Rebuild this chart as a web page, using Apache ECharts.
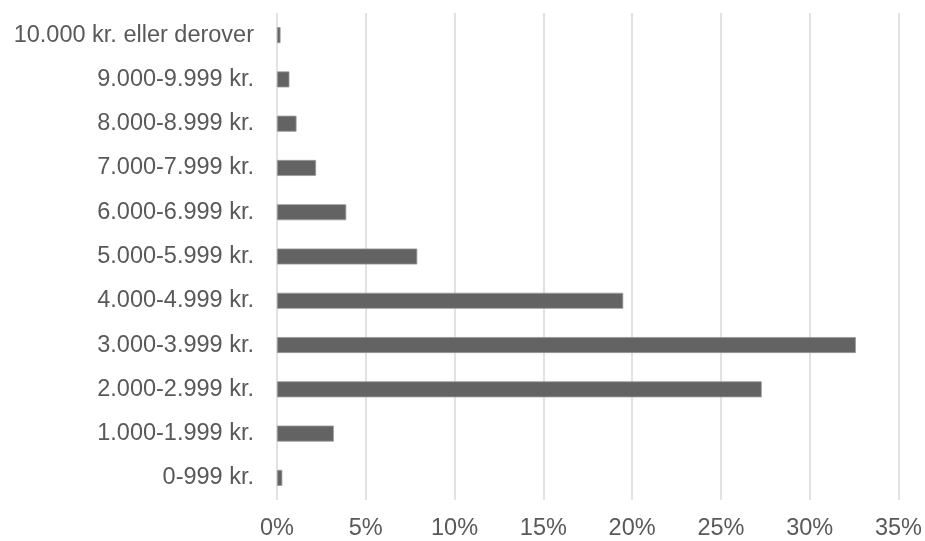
<!DOCTYPE html>
<html>
<head>
<meta charset="utf-8">
<script src="https://cdn.jsdelivr.net/npm/echarts@6/dist/echarts.min.js"></script>
<style>
  html, body { margin: 0; padding: 0; background: #ffffff; }
  #chart { width: 925px; height: 541px; }
</style>
</head>
<body>
<div id="chart"></div>
<script>
// Income brackets, bottom to top
const categories = [
  '0-999 kr.',
  '1.000-1.999 kr.',
  '2.000-2.999 kr.',
  '3.000-3.999 kr.',
  '4.000-4.999 kr.',
  '5.000-5.999 kr.',
  '6.000-6.999 kr.',
  '7.000-7.999 kr.',
  '8.000-8.999 kr.',
  '9.000-9.999 kr.',
  '10.000 kr. eller derover'
];

// Share of respondents per bracket (%)
const shares = [0.3, 3.2, 27.3, 32.6, 19.5, 7.9, 3.9, 2.2, 1.1, 0.7, 0.2];

// Value axis ticks (%)
const tickMin = 0;
const tickMax = 35;
const tickStep = 5;

const chart = echarts.init(document.getElementById('chart'), null, { renderer: 'canvas' });

chart.setOption({
  animation: false,
  backgroundColor: '#ffffff',
  grid: { left: 277, right: 26, top: 13, bottom: 40 },
  xAxis: {
    type: 'value',
    min: tickMin,
    max: tickMax,
    interval: tickStep,
    axisLine: { show: false },
    axisTick: { show: false },
    splitLine: { show: true, lineStyle: { color: '#d9d9d9', width: 1.5 } },
    axisLabel: {
      color: '#595959',
      fontFamily: 'Liberation Sans, Arial, sans-serif',
      fontSize: 23.5,
      margin: 17,
      formatter: v => v + '%'
    }
  },
  yAxis: {
    type: 'category',
    data: categories,
    axisLine: { show: false },
    axisTick: { show: false },
    splitLine: { show: false },
    axisLabel: {
      color: '#595959',
      fontFamily: 'Liberation Sans, Arial, sans-serif',
      fontSize: 23.5,
      margin: 23
    }
  },
  series: [{
    type: 'bar',
    data: shares,
    barWidth: 16,
    itemStyle: { color: '#636363', borderColor: '#9a9a9a', borderWidth: 0.8 },
    emphasis: { disabled: true }
  }]
});
</script>
</body>
</html>
